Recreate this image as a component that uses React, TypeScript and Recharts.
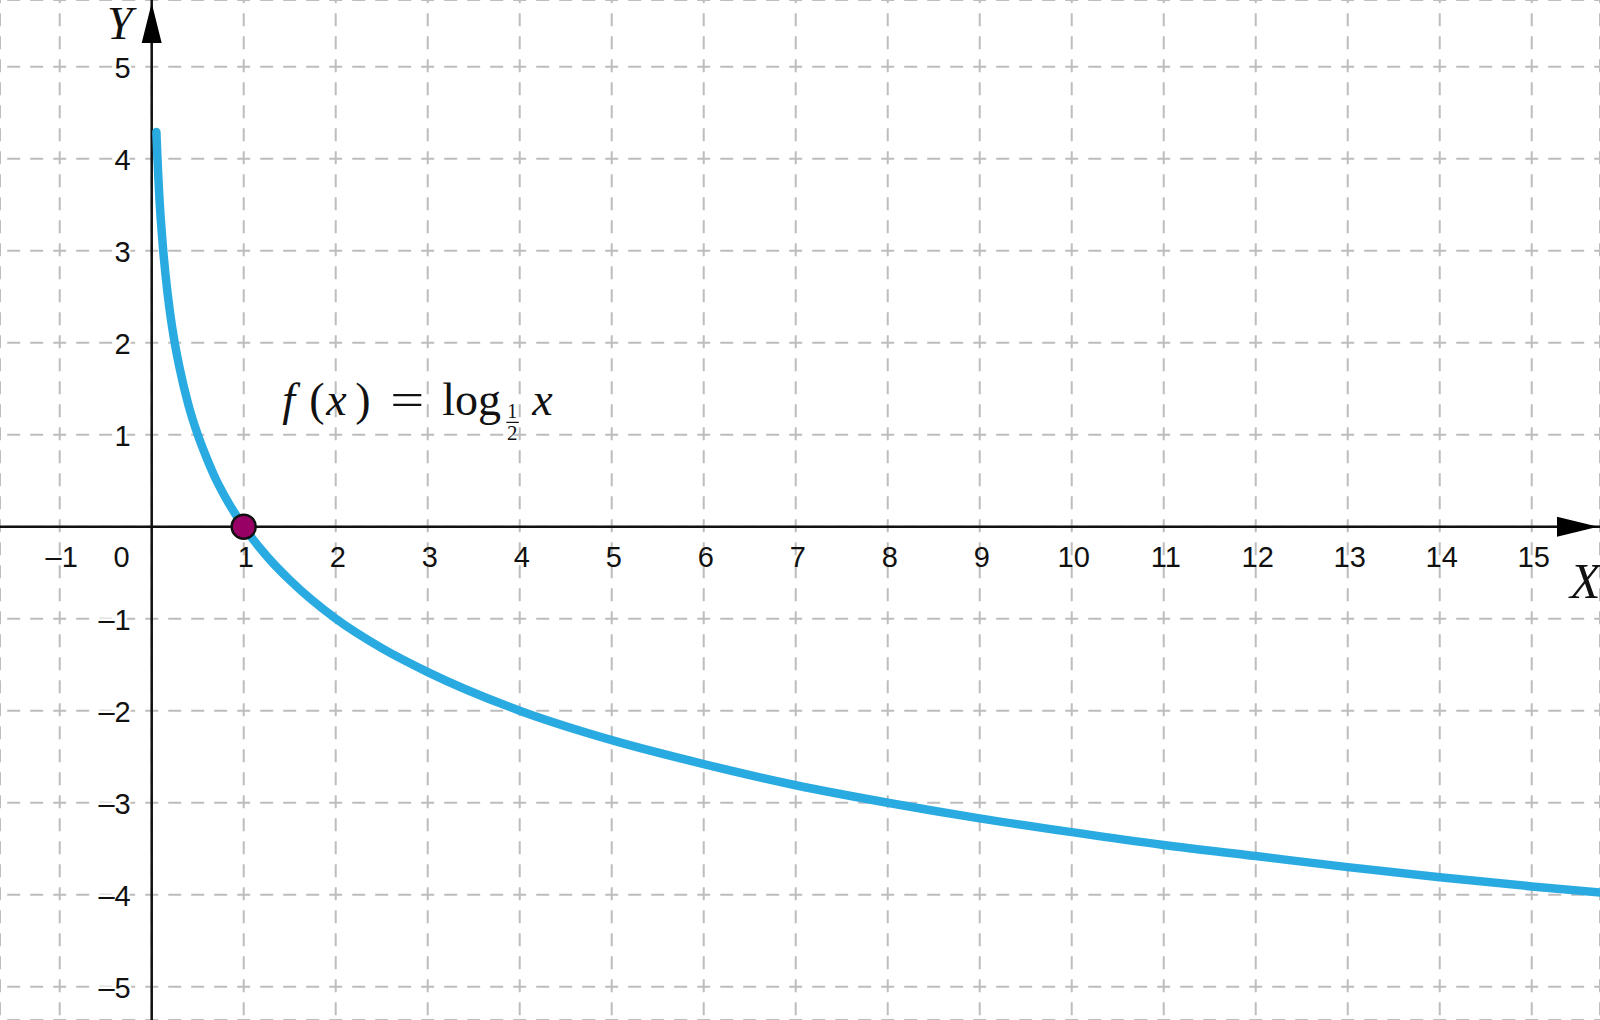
import { LineChart, Line, XAxis, YAxis, CartesianGrid, ReferenceLine, ReferenceDot } from "recharts";

// visible window of the coordinate plane
const X_MIN = -1.649;
const X_MAX = 15.742;
const Y_MIN = -5.362;
const Y_MAX = 5.725;

const xValues = [0.051, 0.06, 0.07, 0.08, 0.1, 0.12, 0.15, 0.2, 0.25, 0.3, 0.4, 0.5, 0.6, 0.7, 0.8, 1, 1.25, 1.5, 2, 2.5, 3, 4, 5, 6, 7, 8, 9, 10, 11, 12, 13, 14, 15, 15.8];
const yValues = [4.29, 4.06, 3.84, 3.64, 3.32, 3.06, 2.74, 2.32, 2.0, 1.74, 1.32, 1.0, 0.74, 0.51, 0.32, 0, -0.32, -0.58, -1.0, -1.32, -1.58, -2.0, -2.32, -2.58, -2.81, -3.0, -3.17, -3.32, -3.46, -3.58, -3.7, -3.81, -3.91, -3.98];

const gridX = [-1, 0, 1, 2, 3, 4, 5, 6, 7, 8, 9, 10, 11, 12, 13, 14, 15];
const gridY = [-5, -4, -3, -2, -1, 0, 1, 2, 3, 4, 5];

const xTicks = [-1, 1, 2, 3, 4, 5, 6, 7, 8, 9, 10, 11, 12, 13, 14, 15];
const xTickLabels = ["–1", "1", "2", "3", "4", "5", "6", "7", "8", "9", "10", "11", "12", "13", "14", "15"];
const yTicks = [5, 4, 3, 2, 1, -1, -2, -3, -4, -5];
const yTickLabels = ["5", "4", "3", "2", "1", "–1", "–2", "–3", "–4", "–5"];

const zeroPoint = { x: 1, y: 0 };
const formulaAt = { x: 1.42, y: 1.21 };

const data = xValues.map((x, i) => ({ x, y: yValues[i] }));

const tickFont = { fontFamily: "'Liberation Sans', Arial, sans-serif", fontSize: 29, fill: "#111" };
const mathFont = { fontFamily: "'Liberation Serif', 'Times New Roman', serif", fill: "#111" };

function Formula({ cx, cy }: any) {
  return (
    <g style={mathFont as any}>
      <text x={cx} y={cy} fontSize={46} fontStyle="italic" fill="#111">f</text>
      <text x={cx + 27} y={cy} fontSize={46} fill="#111">(</text>
      <text x={cx + 44} y={cy} fontSize={46} fontStyle="italic" fill="#111">x</text>
      <text x={cx + 73} y={cy} fontSize={46} fill="#111">)</text>
      <text x={cx + 108} y={cy} fontSize={46} fill="#111" textLength={34} lengthAdjust="spacingAndGlyphs">=</text>
      <text x={cx + 160} y={cy} fontSize={46} fill="#111">log</text>
      <text x={cx + 230} y={cy + 3} fontSize={20} fill="#111" textAnchor="middle">1</text>
      <line x1={cx + 224} x2={cx + 236.5} y1={cy + 7} y2={cy + 7} stroke="#111" strokeWidth={1.2} />
      <text x={cx + 230} y={cy + 24.5} fontSize={21} fill="#111" textAnchor="middle">2</text>
      <text x={cx + 250} y={cy} fontSize={46} fontStyle="italic" fill="#111">x</text>
    </g>
  );
}

export default function App() {
  return (
    <div style={{ position: "absolute", left: 0, top: 0, width: 1600, height: 1020, background: "#fff" }}>
      <LineChart width={1600} height={1020} data={data} margin={{ top: 0, right: 0, bottom: 0, left: 0 }}>
        <XAxis dataKey="x" type="number" domain={[X_MIN, X_MAX]} ticks={gridX} allowDataOverflow hide />
        <YAxis type="number" domain={[Y_MIN, Y_MAX]} ticks={gridY} allowDataOverflow hide />
        <CartesianGrid vertical={false} stroke="#bdbdbd" strokeWidth={2} strokeDasharray="13 10" strokeDashoffset={15.8} />
        <CartesianGrid horizontal={false} stroke="#bdbdbd" strokeWidth={2} strokeDasharray="13 10" strokeDashoffset={9.8} />

        {/* axes */}
        <ReferenceLine x={0} stroke="#111" strokeWidth={2.5} />
        <ReferenceLine y={0} stroke="#111" strokeWidth={2.5} />
        <ReferenceDot
          x={0}
          y={Y_MAX}
          r={0}
          shape={(p: any) => (
            <g>
              <polygon points={`${p.cx},${p.cy + 3} ${p.cx - 10},${p.cy + 43} ${p.cx + 10},${p.cy + 43}`} fill="#000" />
              <text x={p.cx - 19} y={p.cy + 38.5} textAnchor="end" fontSize={46} fontStyle="italic" style={mathFont as any}>Y</text>
            </g>
          )}
        />
        <ReferenceDot
          x={X_MAX}
          y={0}
          r={0}
          shape={(p: any) => (
            <g>
              <polygon points={`${p.cx - 2},${p.cy} ${p.cx - 43},${p.cy - 10} ${p.cx - 43},${p.cy + 10}`} fill="#000" />
              <text x={p.cx - 30} y={p.cy + 71} fontSize={50} fontStyle="italic" style={mathFont as any}>X</text>
            </g>
          )}
        />

        {/* tick labels */}
        {xTicks.map((t, i) => (
          <ReferenceDot
            key={"xt" + t}
            x={t}
            y={0}
            r={0}
            shape={(p: any) => (
              <text x={p.cx + 2} y={p.cy + 40} textAnchor="middle" style={tickFont}>{xTickLabels[i]}</text>
            )}
          />
        ))}
        <ReferenceDot
          x={0}
          y={0}
          r={0}
          shape={(p: any) => (
            <text x={p.cx - 22} y={p.cy + 40} textAnchor="end" style={tickFont}>0</text>
          )}
        />
        {yTicks.map((t, i) => (
          <ReferenceDot
            key={"yt" + t}
            x={0}
            y={t}
            r={0}
            shape={(p: any) => (
              <text
                x={p.cx - 21}
                y={p.cy + 11.5}
                textAnchor="end"
                stroke="#fff"
                strokeWidth={5}
                paintOrder="stroke"
                style={tickFont}
              >
                {yTickLabels[i]}
              </text>
            )}
          />
        ))}

        <Line
          type="monotone"
          dataKey="y"
          stroke="#29abe2"
          strokeWidth={8.5}
          strokeLinecap="round"
          dot={false}
          activeDot={false}
          isAnimationActive={false}
        />

        <ReferenceDot x={formulaAt.x} y={formulaAt.y} r={0} shape={(p: any) => <Formula cx={p.cx} cy={p.cy} />} />
        <ReferenceDot x={zeroPoint.x} y={zeroPoint.y} r={12} fill="#990066" stroke="#111" strokeWidth={2.5} />
      </LineChart>
    </div>
  );
}
